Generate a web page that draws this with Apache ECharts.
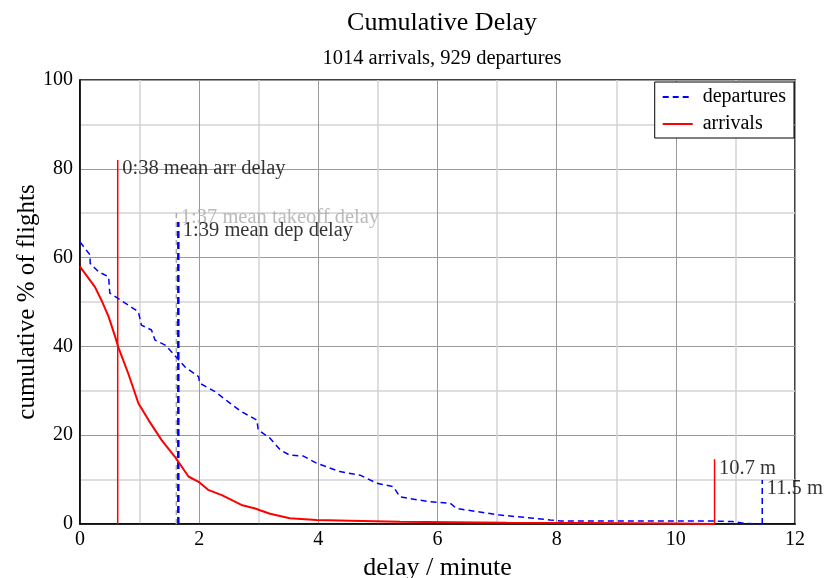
<!DOCTYPE html>
<html>
<head>
<meta charset="utf-8">
<script src="https://cdn.jsdelivr.net/npm/echarts@6/dist/echarts.min.js"></script>
<style>
  html, body { margin: 0; padding: 0; background: #fff; }
  #chart { width: 827px; height: 578px; }
</style>
</head>
<body>
<div id="chart"></div>
<script>
// delay in minutes, cumulative % of flights
const arrX = [0, 0.03, 0.25, 0.36, 0.48, 0.59, 0.64, 0.81, 0.98, 1.15, 1.37, 1.59, 1.82, 1.99, 2.15, 2.38, 2.71, 2.94, 3.02, 3.19, 3.52, 3.97, 4.53, 5.37, 7.16, 8.5, 10, 10.65]
const arrY = [58, 57.4, 53.4, 50.4, 46.7, 42.2, 39.9, 33.9, 27.2, 23.4, 18.9, 15.2, 10.7, 9.5, 7.7, 6.5, 4.3, 3.5, 3.1, 2.3, 1.3, 0.9, 0.75, 0.5, 0.3, 0.2, 0.1, 0]

const depX = [0, 0.03, 0.17, 0.17, 0.31, 0.48, 0.5, 0.64, 0.81, 0.98, 1.03, 1.2, 1.26, 1.43, 1.59, 1.76, 1.99, 2.01, 2.27, 2.49, 2.71, 2.97, 2.99, 3.19, 3.36, 3.52, 3.75, 3.97, 4.36, 4.7, 4.98, 5.26, 5.37, 5.87, 6.21, 6.32, 6.66, 7.05, 7.61, 7.89, 8.06, 10.52, 10.95, 11.15, 11.45]
const depY = [63.5, 63.2, 60.6, 58.7, 56.8, 55.7, 52, 50.8, 49.3, 47.8, 44.8, 43.7, 41.4, 40.3, 38, 35.4, 33.2, 31.7, 29.8, 27.5, 25.3, 23.4, 21.2, 19.3, 16.7, 15.5, 15.3, 13.7, 11.8, 11.0, 9.2, 8.4, 6.1, 5.0, 4.7, 3.5, 2.8, 2.0, 1.3, 0.9, 0.7, 0.7, 0.55, 0.15, 0]

// markers: [x, height, label]
const meanArr = [0.633, 82, '0:38 mean arr delay']
const meanTakeoff = [1.617, 71, '1:37 mean takeoff delay']
const meanDep = [1.65, 68, '1:39 mean dep delay']
const maxArr = [10.65, 14.6, '10.7 m']
const maxDep = [11.45, 9.9, '11.5 m']

const xTicks = [0, 2, 4, 6, 8, 10, 12]
const yTicks = [0, 20, 40, 60, 80, 100]

const font = 'Liberation Serif'
const zip = (xs, ys) => xs.map((x, i) => [x, ys[i]])

function marker(m, color, type, width, labelColor) {
  return [{
    type: 'line',
    data: [[m[0], 0], [m[0], m[1]]],
    symbol: 'none',
    silent: true,
    lineStyle: { color: color, width: width, type: type },
    z: 3
  }, {
    type: 'scatter',
    data: [[m[0], m[1]]],
    symbolSize: 1,
    itemStyle: { color: 'rgba(0,0,0,0)' },
    silent: true,
    label: {
      show: true,
      position: 'right',
      offset: [-1, 9],
      formatter: m[2],
      color: labelColor,
      fontFamily: font,
      fontSize: 20.5
    },
    z: 4
  }]
}

const chart = echarts.init(document.getElementById('chart'))
chart.setOption({
  animation: false,
  textStyle: { fontFamily: font },
  title: {
    text: 'Cumulative Delay',
    subtext: '1014 arrivals, 929 departures',
    left: 437,
    textAlign: 'center',
    top: 5,
    itemGap: 12,
    textStyle: { fontFamily: font, fontSize: 26, fontWeight: 'normal', color: '#000' },
    subtextStyle: { fontFamily: font, fontSize: 20.5, color: '#000' }
  },
  legend: {
    data: ['departures', 'arrivals'],
    orient: 'vertical',
    right: 33,
    top: 82,
    itemWidth: 30,
    itemHeight: 12,
    itemGap: 7,
    padding: [5, 8, 4, 7],
    borderColor: '#000',
    borderWidth: 1,
    backgroundColor: '#fff',
    itemStyle: { opacity: 0 },
    textStyle: { fontFamily: font, fontSize: 20, color: '#000', padding: [0, 0, 0, 5] }
  },
  grid: {
    left: 80, right: 32, top: 80, bottom: 54,
    outerBoundsMode: 'none',
    containLabel: false,
    show: true, borderColor: '#000', borderWidth: 1.5
  },
  xAxis: {
    type: 'value',
    min: 0, max: 12, interval: 2,
    name: 'delay / minute',
    nameLocation: 'middle',
    nameGap: 29,
    nameTextStyle: { fontFamily: font, fontSize: 26, color: '#000' },
    axisLine: { lineStyle: { color: '#000', width: 1.5 } },
    axisTick: { show: false },
    minorTick: { show: false, splitNumber: 2 },
    axisLabel: {
      color: '#000', fontFamily: font, fontSize: 20, margin: 6,
      formatter: v => xTicks.includes(v) ? String(v) : ''
    },
    splitLine: { show: true, lineStyle: { color: '#9a9a9a', width: 1 } },
    minorSplitLine: { show: true, lineStyle: { color: '#d4d4d4', width: 1.5 } }
  },
  yAxis: {
    type: 'value',
    min: 0, max: 100, interval: 20,
    name: 'cumulative % of flights',
    nameLocation: 'middle',
    nameGap: 40,
    nameMoveOverlap: false,
    nameTextStyle: { fontFamily: font, fontSize: 25, color: '#000' },
    axisLine: { show: true, lineStyle: { color: '#000', width: 1.5 } },
    axisTick: { show: false },
    minorTick: { show: false, splitNumber: 2 },
    axisLabel: {
      color: '#000', fontFamily: font, fontSize: 20, margin: 7,
      formatter: v => yTicks.includes(v) ? String(v) : ''
    },
    splitLine: { show: true, lineStyle: { color: '#9a9a9a', width: 1 } },
    minorSplitLine: { show: true, lineStyle: { color: '#d4d4d4', width: 1.5 } }
  },
  series: [
    {
      name: 'departures',
      type: 'line',
      data: zip(depX, depY),
      symbol: 'none',
      lineStyle: { color: '#0000ff', width: 1.5, type: [6, 4] },
      itemStyle: { color: '#0000ff' },
      z: 5
    },
    {
      name: 'arrivals',
      type: 'line',
      data: zip(arrX, arrY),
      symbol: 'none',
      lineStyle: { color: '#ff0000', width: 2 },
      itemStyle: { color: '#ff0000' },
      z: 6
    },
    ...marker(meanArr, '#ff0000', 'solid', 1.5, '#000'),
    ...marker(meanTakeoff, '#aaaaaa', [5, 4], 1.5, '#aaaaaa'),
    ...marker(meanDep, '#0000ff', [7, 4], 2.5, '#000'),
    ...marker(maxArr, '#ff0000', 'solid', 1.5, '#000'),
    ...marker(maxDep, '#0000ff', [6, 4], 1.5, '#000')
  ]
})
</script>
</body>
</html>
